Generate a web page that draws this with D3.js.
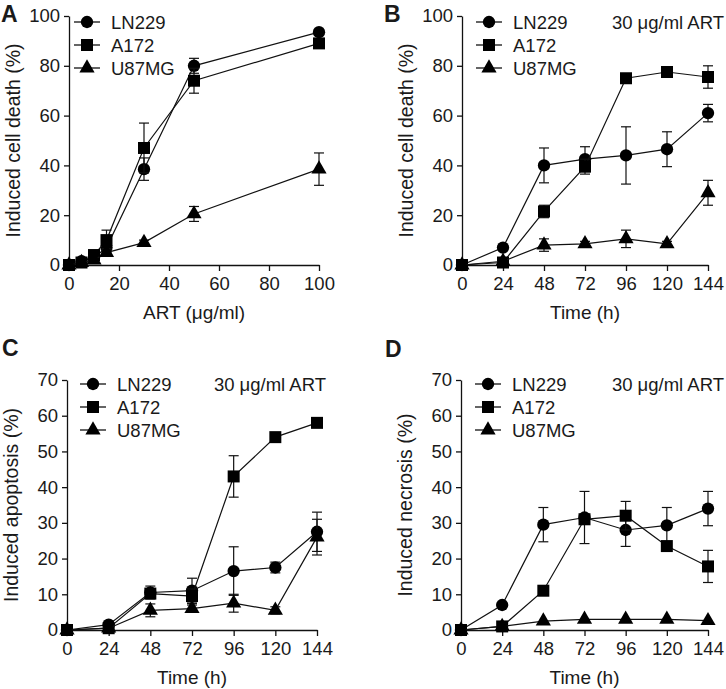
<!DOCTYPE html>
<html>
<head>
<meta charset="utf-8">
<script src="https://cdn.jsdelivr.net/npm/d3@7"></script>
<style>
html,body{margin:0;padding:0;background:#fff;}
svg text{font-family:"Liberation Sans",Arial,sans-serif;fill:#1a1a1a;}
</style>
</head>
<body>
<svg id="chart" width="726" height="689"></svg>
<script>
// ---------- data ----------
const seriesNames = ["LN229", "A172", "U87MG"];
const concX = [0, 5, 10, 15, 30, 50, 100];
const timeX = [0, 24, 48, 72, 96, 120, 144];
const concTicks = [0, 20, 40, 60, 80, 100];
const timeTicks = [0, 24, 48, 72, 96, 120, 144];
const deathTicks = [0, 20, 40, 60, 80, 100];
const pctTicks = [0, 10, 20, 30, 40, 50, 60, 70];

// Panel A: induced cell death vs ART concentration
const A_LN229 = [0, 1.5, 3, 7, 38.5, 80, 93.5];
const A_LN229_err = [0, 0.5, 1, 2, 4.5, 3, 1];
const A_A172 = [0, 1, 4, 10, 47, 74, 89];
const A_A172_err = [0, 0.5, 1, 4, 10, 5, 1];
const A_U87MG = [0, 1, 2, 5, 9, 20.5, 38.5];
const A_U87MG_err = [0, 0.3, 0.5, 1.5, 1, 3, 6.5];

// Panel B: induced cell death vs time
const B_LN229 = [0, 7, 40, 42.5, 44, 46.5, 61];
const B_LN229_err = [0, 1, 7, 5, 11.5, 7, 3.5];
const B_A172 = [0, 1, 21.5, 39.5, 75, 77.5, 75.5];
const B_A172_err = [0, 0.5, 2.5, 3, 1, 1, 4.5];
const B_U87MG = [0, 1.5, 8, 8.5, 10.5, 8.5, 29];
const B_U87MG_err = [0, 0.5, 2.5, 1, 3.5, 1, 5];

// Panel C: induced apoptosis vs time
const C_LN229 = [0, 1.5, 10.5, 11, 16.5, 17.5, 27.5];
const C_LN229_err = [0, 0.8, 1.8, 3.5, 6.8, 1.5, 5.5];
const C_A172 = [0, 0.5, 10.2, 9.5, 43, 54, 58];
const C_A172_err = [0, 0.5, 1, 2, 5.8, 0.5, 0.5];
const C_U87MG = [0, 0.5, 5.5, 6, 7.5, 5.5, 26];
const C_U87MG_err = [0, 0.3, 1.8, 1, 2.5, 1, 5];

// Panel D: induced necrosis vs time
const D_LN229 = [0, 7, 29.5, 31.5, 28, 29.3, 34];
const D_LN229_err = [0, 0.5, 4.8, 7.3, 4.6, 5, 4.8];
const D_A172 = [0, 1, 11, 31, 32, 23.5, 17.8];
const D_A172_err = [0, 0.5, 1, 1, 4, 1, 4.5];
const D_U87MG = [0, 1, 2.5, 3, 3, 3, 2.6];
const D_U87MG_err = [0, 0.3, 0.3, 0.3, 0.3, 0.3, 0.3];

// ---------- drawing ----------
const svg = d3.select("#chart");
const symbolTypes = [d3.symbolCircle, d3.symbolSquare, d3.symbolTriangle];
const symbolSizes = [120, 144, 100];
const FS = 18.5;

function panel(cfg) {
  const g = svg.append("g");
  const x = d3.scaleLinear().domain(cfg.xDomain).range(cfg.xRange);
  const y = d3.scaleLinear().domain(cfg.yDomain).range(cfg.yRange);

  // axes
  const xAxis = d3.axisBottom(x).tickValues(cfg.xTicks).tickSize(6).tickSizeOuter(0).tickPadding(6);
  const yAxis = d3.axisLeft(y).tickValues(cfg.yTicks).tickSize(5).tickSizeOuter(0).tickPadding(4);
  const gx = g.append("g").attr("transform", `translate(0,${cfg.yRange[0]})`).call(xAxis);
  const gy = g.append("g").attr("transform", `translate(${cfg.xRange[0]},0)`).call(yAxis);
  [gx, gy].forEach(a => {
    a.selectAll("path,line").attr("stroke", "#111").attr("stroke-width", 1.3);
    a.selectAll("text").attr("font-size", FS).attr("fill", "#1a1a1a")
      .attr("font-family", "'Liberation Sans', Arial, sans-serif");
  });

  // axis titles
  g.append("text")
    .attr("x", (cfg.xRange[0] + cfg.xRange[1]) / 2)
    .attr("y", cfg.yRange[0] + 54)
    .attr("text-anchor", "middle").attr("font-size", 19)
    .text(cfg.xTitle);
  g.append("text")
    .attr("transform", `translate(${cfg.xRange[0] - 49},${(cfg.yRange[0] + cfg.yRange[1]) / 2}) rotate(-90)`)
    .attr("text-anchor", "middle").attr("font-size", 19.5)
    .text(cfg.yTitle);

  // panel letter
  g.append("text").attr("x", cfg.letterPos[0]).attr("y", cfg.letterPos[1])
    .attr("font-size", 23).attr("font-weight", "bold").attr("fill", "#000").text(cfg.letter);

  // series
  const line = d3.line().x(d => x(d.x)).y(d => y(d.y));
  cfg.series.forEach((s, i) => {
    const pts = cfg.xVals.map((xv, j) => ({x: xv, y: s.v[j], e: s.e[j]}));
    g.append("path").datum(pts).attr("d", line)
      .attr("fill", "none").attr("stroke", "#111").attr("stroke-width", 1.2);
    const eb = g.append("g");
    pts.filter(p => p.e > 0.6).forEach(p => {
      const cx = x(p.x), y1 = y(p.y - p.e), y2 = y(p.y + p.e);
      eb.append("line").attr("x1", cx).attr("x2", cx).attr("y1", y1).attr("y2", y2)
        .attr("stroke", "#111").attr("stroke-width", 1.2);
      [y1, y2].forEach(yy => eb.append("line").attr("x1", cx - 5).attr("x2", cx + 5)
        .attr("y1", yy).attr("y2", yy).attr("stroke", "#111").attr("stroke-width", 1.2));
    });
    g.append("g").selectAll("path").data(pts).join("path")
      .attr("transform", p => `translate(${x(p.x)},${y(p.y)})`)
      .attr("d", d3.symbol().type(symbolTypes[i]).size(symbolSizes[i]))
      .attr("fill", "#000");
  });

  // legend
  seriesNames.forEach((name, i) => {
    const ly = cfg.legend[1] + i * 23;
    const lx = cfg.legend[0];
    g.append("line").attr("x1", lx).attr("x2", lx + 26).attr("y1", ly).attr("y2", ly)
      .attr("stroke", "#111").attr("stroke-width", 1.3);
    g.append("path").attr("transform", `translate(${lx + 13},${ly})`)
      .attr("d", d3.symbol().type(symbolTypes[i]).size(symbolSizes[i])).attr("fill", "#000");
    g.append("text").attr("x", lx + 37).attr("y", ly).attr("dy", "0.36em")
      .attr("font-size", FS).text(name);
  });
  if (cfg.note) {
    g.append("text").attr("x", cfg.noteEnd).attr("y", cfg.legend[1]).attr("dy", "0.36em")
      .attr("text-anchor", "end").attr("font-size", FS).text(cfg.note);
  }
}

panel({letter: "A", letterPos: [1, 22], xDomain: [0, 100], xRange: [69, 319], yDomain: [0, 100], yRange: [265, 16],
  xTicks: concTicks, yTicks: deathTicks, xVals: concX, xTitle: "ART (μg/ml)", yTitle: "Induced cell death (%)",
  legend: [74, 22],
  series: [{v: A_LN229, e: A_LN229_err}, {v: A_A172, e: A_A172_err}, {v: A_U87MG, e: A_U87MG_err}]});

panel({letter: "B", letterPos: [384, 22], xDomain: [0, 144], xRange: [462, 708], yDomain: [0, 100], yRange: [265, 16],
  xTicks: timeTicks, yTicks: deathTicks, xVals: timeX, xTitle: "Time (h)", yTitle: "Induced cell death (%)",
  legend: [476, 22], note: "30 μg/ml ART", noteEnd: 724,
  series: [{v: B_LN229, e: B_LN229_err}, {v: B_A172, e: B_A172_err}, {v: B_U87MG, e: B_U87MG_err}]});

panel({letter: "C", letterPos: [2, 356], xDomain: [0, 144], xRange: [67, 317], yDomain: [0, 70], yRange: [630, 380],
  xTicks: timeTicks, yTicks: pctTicks, xVals: timeX, xTitle: "Time (h)", yTitle: "Induced apoptosis (%)",
  legend: [80, 384], note: "30 μg/ml ART", noteEnd: 326,
  series: [{v: C_LN229, e: C_LN229_err}, {v: C_A172, e: C_A172_err}, {v: C_U87MG, e: C_U87MG_err}]});

panel({letter: "D", letterPos: [385, 357], xDomain: [0, 144], xRange: [461, 708], yDomain: [0, 70], yRange: [630, 380],
  xTicks: timeTicks, yTicks: pctTicks, xVals: timeX, xTitle: "Time (h)", yTitle: "Induced necrosis (%)",
  legend: [475, 384], note: "30 μg/ml ART", noteEnd: 724,
  series: [{v: D_LN229, e: D_LN229_err}, {v: D_A172, e: D_A172_err}, {v: D_U87MG, e: D_U87MG_err}]});
</script>
</body>
</html>
